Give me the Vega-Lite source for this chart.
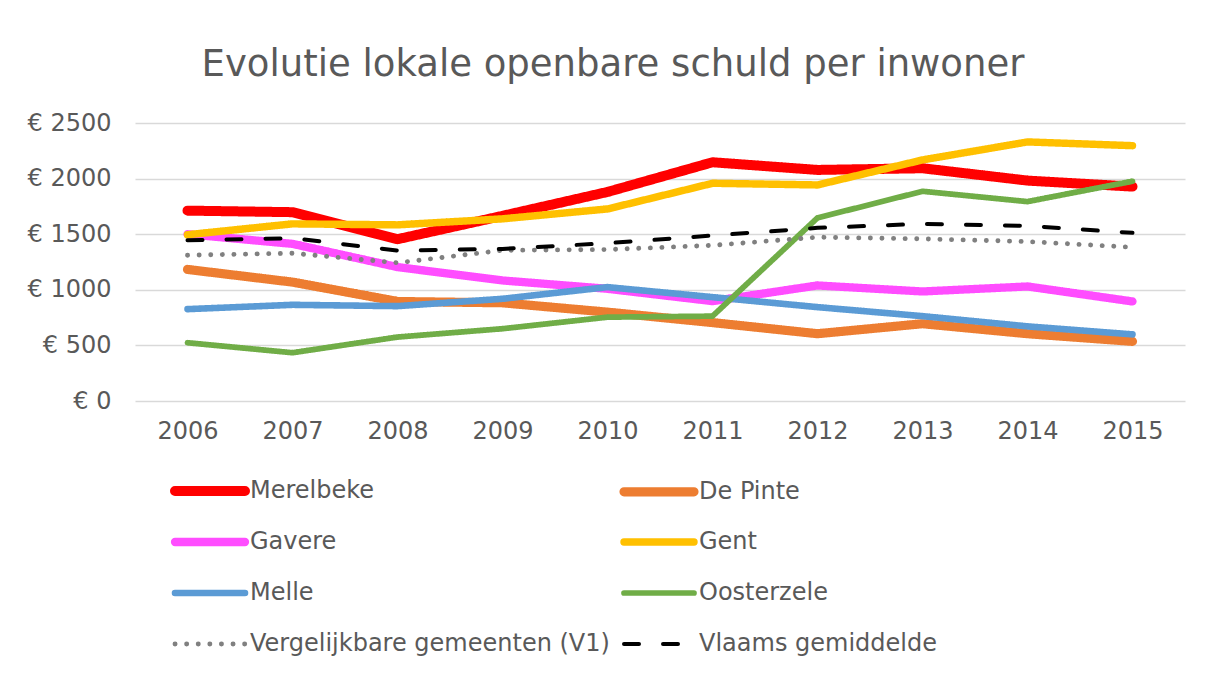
{
  "$schema": "https://vega.github.io/schema/vega-lite/v6.json",
  "width": 1050,
  "height": 278,
  "autosize": {"type": "none"},
  "padding": {"left": 135, "top": 123, "right": 21, "bottom": 272},
  "background": "white",
  "title": {
    "text": "Evolutie lokale openbare schuld per inwoner",
    "fontSize": 37,
    "font": "DejaVu Sans",
    "fontWeight": "normal",
    "color": "#595959",
    "anchor": "middle",
    "frame": "group",
    "dx": -47,
    "offset": 27
  },
  "data": {
    "values": [
      {"reeks": "Merelbeke", "jaar": "2006", "schuld": 1712},
      {"reeks": "Merelbeke", "jaar": "2007", "schuld": 1698},
      {"reeks": "Merelbeke", "jaar": "2008", "schuld": 1455},
      {"reeks": "Merelbeke", "jaar": "2009", "schuld": 1665},
      {"reeks": "Merelbeke", "jaar": "2010", "schuld": 1880},
      {"reeks": "Merelbeke", "jaar": "2011", "schuld": 2147},
      {"reeks": "Merelbeke", "jaar": "2012", "schuld": 2078},
      {"reeks": "Merelbeke", "jaar": "2013", "schuld": 2093},
      {"reeks": "Merelbeke", "jaar": "2014", "schuld": 1982},
      {"reeks": "Merelbeke", "jaar": "2015", "schuld": 1928},
      {"reeks": "De Pinte", "jaar": "2006", "schuld": 1183},
      {"reeks": "De Pinte", "jaar": "2007", "schuld": 1069},
      {"reeks": "De Pinte", "jaar": "2008", "schuld": 895},
      {"reeks": "De Pinte", "jaar": "2009", "schuld": 883},
      {"reeks": "De Pinte", "jaar": "2010", "schuld": 799},
      {"reeks": "De Pinte", "jaar": "2011", "schuld": 705},
      {"reeks": "De Pinte", "jaar": "2012", "schuld": 605},
      {"reeks": "De Pinte", "jaar": "2013", "schuld": 695},
      {"reeks": "De Pinte", "jaar": "2014", "schuld": 605},
      {"reeks": "De Pinte", "jaar": "2015", "schuld": 536},
      {"reeks": "Gavere", "jaar": "2006", "schuld": 1500},
      {"reeks": "Gavere", "jaar": "2007", "schuld": 1413},
      {"reeks": "Gavere", "jaar": "2008", "schuld": 1204},
      {"reeks": "Gavere", "jaar": "2009", "schuld": 1084},
      {"reeks": "Gavere", "jaar": "2010", "schuld": 1009},
      {"reeks": "Gavere", "jaar": "2011", "schuld": 898},
      {"reeks": "Gavere", "jaar": "2012", "schuld": 1039},
      {"reeks": "Gavere", "jaar": "2013", "schuld": 985},
      {"reeks": "Gavere", "jaar": "2014", "schuld": 1030},
      {"reeks": "Gavere", "jaar": "2015", "schuld": 895},
      {"reeks": "Gent", "jaar": "2006", "schuld": 1495},
      {"reeks": "Gent", "jaar": "2007", "schuld": 1593},
      {"reeks": "Gent", "jaar": "2008", "schuld": 1584},
      {"reeks": "Gent", "jaar": "2009", "schuld": 1638},
      {"reeks": "Gent", "jaar": "2010", "schuld": 1727},
      {"reeks": "Gent", "jaar": "2011", "schuld": 1958},
      {"reeks": "Gent", "jaar": "2012", "schuld": 1943},
      {"reeks": "Gent", "jaar": "2013", "schuld": 2168},
      {"reeks": "Gent", "jaar": "2014", "schuld": 2330},
      {"reeks": "Gent", "jaar": "2015", "schuld": 2296},
      {"reeks": "Melle", "jaar": "2006", "schuld": 826},
      {"reeks": "Melle", "jaar": "2007", "schuld": 865},
      {"reeks": "Melle", "jaar": "2008", "schuld": 853},
      {"reeks": "Melle", "jaar": "2009", "schuld": 919},
      {"reeks": "Melle", "jaar": "2010", "schuld": 1024},
      {"reeks": "Melle", "jaar": "2011", "schuld": 934},
      {"reeks": "Melle", "jaar": "2012", "schuld": 844},
      {"reeks": "Melle", "jaar": "2013", "schuld": 763},
      {"reeks": "Melle", "jaar": "2014", "schuld": 671},
      {"reeks": "Melle", "jaar": "2015", "schuld": 599},
      {"reeks": "Oosterzele", "jaar": "2006", "schuld": 524},
      {"reeks": "Oosterzele", "jaar": "2007", "schuld": 434},
      {"reeks": "Oosterzele", "jaar": "2008", "schuld": 575},
      {"reeks": "Oosterzele", "jaar": "2009", "schuld": 650},
      {"reeks": "Oosterzele", "jaar": "2010", "schuld": 754},
      {"reeks": "Oosterzele", "jaar": "2011", "schuld": 763},
      {"reeks": "Oosterzele", "jaar": "2012", "schuld": 1647},
      {"reeks": "Oosterzele", "jaar": "2013", "schuld": 1886},
      {"reeks": "Oosterzele", "jaar": "2014", "schuld": 1793},
      {"reeks": "Oosterzele", "jaar": "2015", "schuld": 1976},
      {"reeks": "Vergelijkbare gemeenten (V1)", "jaar": "2006", "schuld": 1311},
      {"reeks": "Vergelijkbare gemeenten (V1)", "jaar": "2007", "schuld": 1329},
      {"reeks": "Vergelijkbare gemeenten (V1)", "jaar": "2008", "schuld": 1243},
      {"reeks": "Vergelijkbare gemeenten (V1)", "jaar": "2009", "schuld": 1355},
      {"reeks": "Vergelijkbare gemeenten (V1)", "jaar": "2010", "schuld": 1362},
      {"reeks": "Vergelijkbare gemeenten (V1)", "jaar": "2011", "schuld": 1400},
      {"reeks": "Vergelijkbare gemeenten (V1)", "jaar": "2012", "schuld": 1473},
      {"reeks": "Vergelijkbare gemeenten (V1)", "jaar": "2013", "schuld": 1458},
      {"reeks": "Vergelijkbare gemeenten (V1)", "jaar": "2014", "schuld": 1434},
      {"reeks": "Vergelijkbare gemeenten (V1)", "jaar": "2015", "schuld": 1383},
      {"reeks": "Vlaams gemiddelde", "jaar": "2006", "schuld": 1445},
      {"reeks": "Vlaams gemiddelde", "jaar": "2007", "schuld": 1464},
      {"reeks": "Vlaams gemiddelde", "jaar": "2008", "schuld": 1353},
      {"reeks": "Vlaams gemiddelde", "jaar": "2009", "schuld": 1368},
      {"reeks": "Vlaams gemiddelde", "jaar": "2010", "schuld": 1419},
      {"reeks": "Vlaams gemiddelde", "jaar": "2011", "schuld": 1488},
      {"reeks": "Vlaams gemiddelde", "jaar": "2012", "schuld": 1557},
      {"reeks": "Vlaams gemiddelde", "jaar": "2013", "schuld": 1593},
      {"reeks": "Vlaams gemiddelde", "jaar": "2014", "schuld": 1575},
      {"reeks": "Vlaams gemiddelde", "jaar": "2015", "schuld": 1512}
    ]
  },
  "mark": {"type": "line", "strokeCap": "round", "strokeJoin": "round"},
  "encoding": {
    "x": {
      "field": "jaar",
      "type": "ordinal",
      "scale": {"type": "point", "padding": 0.5},
      "axis": {
        "title": null,
        "labelAngle": 0,
        "labelFontSize": 24,
        "labelFont": "DejaVu Sans",
        "labelColor": "#595959",
        "labelPadding": 18,
        "ticks": false,
        "domain": false,
        "grid": false
      }
    },
    "y": {
      "field": "schuld",
      "type": "quantitative",
      "scale": {"domain": [0, 2500], "nice": false},
      "axis": {
        "title": null,
        "values": [0, 500, 1000, 1500, 2000, 2500],
        "labelExpr": "'€ ' + datum.value",
        "labelFontSize": 24,
        "labelFont": "DejaVu Sans",
        "labelColor": "#595959",
        "labelPadding": 24,
        "ticks": false,
        "domain": false,
        "grid": true,
        "gridColor": "#d9d9d9",
        "gridWidth": 1.3
      }
    },
    "color": {
      "field": "reeks",
      "type": "nominal",
      "sort": ["Merelbeke", "De Pinte", "Gavere", "Gent", "Melle", "Oosterzele", "Vergelijkbare gemeenten (V1)", "Vlaams gemiddelde"],
      "scale": {
        "domain": ["Merelbeke", "De Pinte", "Gavere", "Gent", "Melle", "Oosterzele", "Vergelijkbare gemeenten (V1)", "Vlaams gemiddelde"],
        "range": ["#ff0000", "#ed7d31", "#ff4dff", "#ffc000", "#5b9bd5", "#70ad47", "#808080", "#000000"]
      },
      "legend": {
        "title": null,
        "orient": "none",
        "direction": "horizontal",
        "legendX": 28,
        "legendY": 356,
        "columns": 2,
        "columnPadding": -5,
        "rowPadding": 14,
        "gridAlign": "all",
        "padding": 0,
        "symbolType": "M0,0L10,0",
        "symbolSize": 196,
        "labelFontSize": 24,
        "labelFont": "DejaVu Sans",
        "labelColor": "#595959",
        "labelOffset": 63,
        "labelLimit": 600,
        "encode": {"symbols": {"update": {"strokeCap": {"value": "round"}}}}
      }
    },
    "strokeWidth": {
      "field": "reeks",
      "type": "nominal",
      "sort": ["Merelbeke", "De Pinte", "Gavere", "Gent", "Melle", "Oosterzele", "Vergelijkbare gemeenten (V1)", "Vlaams gemiddelde"],
      "scale": {
        "domain": ["Merelbeke", "De Pinte", "Gavere", "Gent", "Melle", "Oosterzele", "Vergelijkbare gemeenten (V1)", "Vlaams gemiddelde"],
        "range": [10, 4, 4, 4, 4, 4, 5, 5.5]
      }
    },
    "strokeDash": {
      "field": "reeks",
      "type": "nominal",
      "sort": ["Merelbeke", "De Pinte", "Gavere", "Gent", "Melle", "Oosterzele", "Vergelijkbare gemeenten (V1)", "Vlaams gemiddelde"],
      "scale": {
        "domain": ["Merelbeke", "De Pinte", "Gavere", "Gent", "Melle", "Oosterzele", "Vergelijkbare gemeenten (V1)", "Vlaams gemiddelde"],
        "range": [[1, 0], [1, 0], [1, 0], [1, 0], [1, 0], [1, 0], [0.1, 11.5], [15, 24]]
      }
    }
  },
  "config": {
    "view": {"stroke": null},
    "font": "DejaVu Sans"
  }
}
